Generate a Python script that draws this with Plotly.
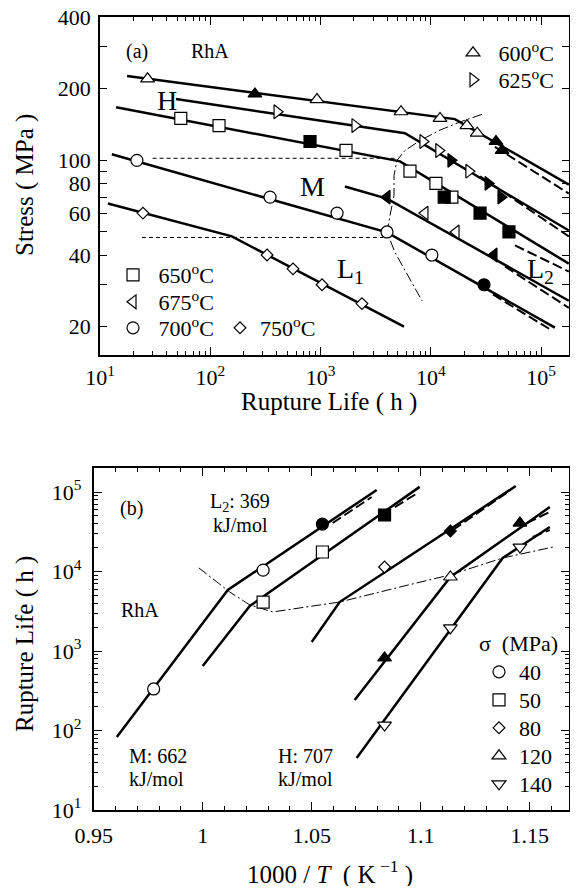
import plotly.graph_objects as go

# page is 578x894; the browser's default 8px body margin offsets the figure
PAGE_W, PAGE_H = 578, 894
OFF = 8
W, H = PAGE_W - OFF, PAGE_H - 2 * OFF
FONT = "Liberation Serif, Times New Roman, serif"
SP = "\u00a0"

# ---------------- Panel (a): rupture life (h) vs stress (MPa) ----------------
t600_open = [27, 927, 5360, 12100, 21200, 26300]
s600_open = [220, 180, 160, 150, 140, 130]
t600_fill = [254, 38900, 44200]
s600_fill = [190, 120, 110]

t625_open = [403, 2050, 8470, 11800, 22100]
s625_open = [160, 140, 120, 110, 90]
t625_fill = [15200, 33000, 43200]
s625_fill = [100, 80, 70]

t650_open = [54, 120, 1700, 6460, 11100, 15500]
s650_open = [150, 140, 110, 90, 80, 70]
t650_fill = [802, 13200, 27900, 51000]
s650_fill = [120, 70, 60, 50]

t675_open = [8830, 16900]
s675_open = [60, 50]
t675_fill = [4000, 37300]
s675_fill = [70, 40]

t700_open = [21.6, 348, 1410, 4000, 10200]
s700_open = [100, 70, 60, 50, 40]
t700_fill = [30300]
s700_fill = [30]

t750_open = [24.5, 327, 562, 1030, 2370]
s750_open = [60, 40, 35, 30, 25]

# fitted lines (vertices, data units)
fit600_t = [17.6, 16500, 178000];  fit600_s = [226, 149, 79]
dsh600_t = [38000, 178000];        dsh600_s = [114, 72.5]
fit625_t = [48.9, 5820, 178000];   fit625_s = [181, 130, 50.7]
dsh625_t = [27900, 178000];        dsh625_s = [85.7, 47.9]
fit650_t = [14, 5250, 178000];     fit650_s = [167, 99, 36.8]
dsh650_t = [57800, 178000];        dsh650_s = [43.9, 34.1]
fit675_t = [1660, 4000, 178000];   fit675_s = [77.6, 69, 25.7]
dsh675_t = [47000, 178000];        dsh675_s = [35.8, 24.0]
fit700_t = [12.8, 4000, 133000];   fit700_s = [106, 49.8, 19.8]
dsh700_t = [36500, 118000];        dsh700_s = [27.3, 19.6]
fit750_t = [11.8, 157, 5700];      fit750_s = [65.9, 47.9, 20.0]

hm_t = [30, 4720];   hm_s = [102, 102]       # H / M boundary
ml_t = [24, 3680];   ml_s = [47.4, 47.4]     # M / L1 boundary

bnd_a_t = [29000, 18400, 12100, 7960, 5820, 4930, 4630, 4630, 4260, 4000, 4730, 6190, 8300]
bnd_a_s = [156, 145, 134, 121, 110, 100, 86.5, 71.2, 58.6, 49.8, 41.0, 32.8, 25.7]

# ---------------- Panel (b): 1000/T vs rupture life ----------------
x40_open = [0.9775, 1.0277];  y40_open = [333, 10400]
x40_fill = [1.0549];          y40_fill = [39500]
x50_open = [1.0277, 1.0549];  y50_open = [4130, 17600]
x50_fill = [1.0834];          y50_fill = [51400]
x80_open = [1.0834];          y80_open = [11400]
x80_fill = [1.1136];          y80_fill = [32300]
x120_open = [1.1136];         y120_open = [8530]
x120_fill = [1.0834, 1.1455]; y120_fill = [817, 40700]
x140_open = [1.0834, 1.1136, 1.1455]; y140_open = [117, 1950, 20300]

fb40_x = [0.9606, 1.0115, 1.0798];  fb40_y = [83, 5850, 106000]
db40_x = [1.0596, 1.0775];          db40_y = [40700, 86500]
fb50_x = [1.0, 1.0216, 1.0995];     fb50_y = [647, 3680, 116000]
db50_x = [1.0881, 1.0986];          db50_y = [64700, 97100]
fb80_x = [1.05, 1.0628, 1.1436];    fb80_y = [1300, 4130, 119000]
db80_x = [1.1147, 1.1394];          db80_y = [33300, 97100]
fb120_x = [1.0697, 1.1136, 1.1592]; fb120_y = [242, 8530, 64700]
db120_x = [1.1486, 1.1592];         db120_y = [40700, 56000]
fb140_x = [1.0706, 1.1376, 1.1592]; fb140_y = [45, 14800, 36300]
db140_x = [1.1514, 1.1592];         db140_y = [27200, 33300]

bnd_b_x = [0.9982, 1.0124, 1.0216, 1.0321, 1.0445, 1.055, 1.0628, 1.0904, 1.1133, 1.1376, 1.1606]
bnd_b_y = [11100, 5520, 3800, 3100, 3480, 3800, 4130, 6380, 9040, 14800, 20300]

# tick labels
a_x_ticks = [10, 100, 1000, 10000, 100000]
a_x_text = ["10<sup>1</sup>", "10<sup>2</sup>", "10<sup>3</sup>", "10<sup>4</sup>", "10<sup>5</sup>"]
a_y_ticks = [20, 30, 40, 50, 60, 70, 80, 90, 100, 200, 300, 400]
a_y_text = ["20", "", "40", "", "60", "", "80", "", "100", "200", "", "400"]
b_x_ticks = [0.95, 1.0, 1.05, 1.1, 1.15]
b_x_text = ["0.95", "1", "1.05", "1.1", "1.15"]
b_y_ticks = [10, 100, 1000, 10000, 100000]
b_y_text = ["10<sup>1</sup>", "10<sup>2</sup>", "10<sup>3</sup>", "10<sup>4</sup>", "10<sup>5</sup>"]


def px(x):
    return (x - OFF) / W


def py(y):
    return 1 - (y - OFF) / H


fig = go.Figure()


def line(x, y, ax, dash="solid", width=2.5):
    fig.add_trace(go.Scatter(x=x, y=y, mode="lines", xaxis=ax[0], yaxis=ax[1],
                             line=dict(color="black", width=width, dash=dash),
                             showlegend=False, hoverinfo="skip"))


def marks(x, y, ax, symbol, size, filled, name=None, legend=None):
    fig.add_trace(go.Scatter(
        x=x, y=y, mode="markers", xaxis=ax[0], yaxis=ax[1],
        marker=dict(symbol=symbol, size=size, color="black" if filled else "white",
                    line=dict(color="black", width=1.2)),
        name=name if name else "", showlegend=legend is not None,
        legend=legend if legend else "legend"))


A = ("x", "y")
B = ("x2", "y2")
LDASH = "10px,4px"
THIN = "4px,3px"
DDOT = "10px,3px,2px,3px"

# panel (a) lines
for ft, fs, dt, ds in [(fit600_t, fit600_s, dsh600_t, dsh600_s),
                       (fit625_t, fit625_s, dsh625_t, dsh625_s),
                       (fit650_t, fit650_s, dsh650_t, dsh650_s),
                       (fit675_t, fit675_s, dsh675_t, dsh675_s),
                       (fit700_t, fit700_s, dsh700_t, dsh700_s)]:
    line(ft, fs, A)
    line(dt, ds, A, dash=LDASH, width=2)
line(fit750_t, fit750_s, A)
line(hm_t, hm_s, A, dash=THIN, width=1)
line(ml_t, ml_s, A, dash=THIN, width=1)
line(bnd_a_t, bnd_a_s, A, dash=DDOT, width=1)

# panel (a) markers
marks(t600_open, s600_open, A, "triangle-up", 12, False, SP + "600<sup>o</sup>C", "legend")
marks(t600_fill, s600_fill, A, "triangle-up", 12, True)
marks(t625_open, s625_open, A, "triangle-right", 12, False, SP + "625<sup>o</sup>C", "legend2")
marks(t625_fill, s625_fill, A, "triangle-right", 12, True)
marks(t650_open, s650_open, A, "square", 12, False, SP + "650<sup>o</sup>C", "legend3")
marks(t650_fill, s650_fill, A, "square", 12, True)
marks(t675_open, s675_open, A, "triangle-left", 12, False, SP + "675<sup>o</sup>C", "legend4")
marks(t675_fill, s675_fill, A, "triangle-left", 12, True)
marks(t700_open, s700_open, A, "circle", 12, False, SP + "700<sup>o</sup>C", "legend5")
marks(t700_fill, s700_fill, A, "circle", 12, True)
marks(t750_open, s750_open, A, "diamond", 9, False, "750<sup>o</sup>C", "legend6")

# panel (b) lines
for fx, fy, dx, dy in [(fb40_x, fb40_y, db40_x, db40_y), (fb50_x, fb50_y, db50_x, db50_y),
                       (fb80_x, fb80_y, db80_x, db80_y), (fb120_x, fb120_y, db120_x, db120_y),
                       (fb140_x, fb140_y, db140_x, db140_y)]:
    line(fx, fy, B)
    line(dx, dy, B, dash=LDASH, width=2)
line(bnd_b_x, bnd_b_y, B, dash=DDOT, width=1)

# panel (b) markers
marks(x40_open, y40_open, B, "circle", 12, False, "40", "legend7")
marks(x40_fill, y40_fill, B, "circle", 12, True)
marks(x50_open, y50_open, B, "square", 12, False, "50", "legend8")
marks(x50_fill, y50_fill, B, "square", 12, True)
marks(x80_open, y80_open, B, "diamond", 9, False, "80", "legend9")
marks(x80_fill, y80_fill, B, "diamond", 9, True)
marks(x120_open, y120_open, B, "triangle-up", 12, False, "120", "legend10")
marks(x120_fill, y120_fill, B, "triangle-up", 12, True)
marks(x140_open, y140_open, B, "triangle-down", 12, False, "140", "legend11")

tickfont = dict(family=FONT, size=22, color="black")
axis_common = dict(showline=True, linecolor="black", linewidth=1.8, mirror="allticks",
                   ticks="inside", ticklen=8, tickwidth=1.4, tickcolor="black",
                   showgrid=False, zeroline=False, tickfont=tickfont, tickmode="array",
                   automargin=False, ticklabeloverflow="allow")


def decade_minors(lo_exp, hi_exp, top):
    v = []
    for e in range(lo_exp, hi_exp + 1):
        for m in range(2, 10):
            val = m * 10 ** e
            if val <= top:
                v.append(val)
    return v


layout = dict(
    width=W, height=H, margin=dict(l=0, r=0, t=0, b=0, autoexpand=False),
    paper_bgcolor="white", plot_bgcolor="white",
    font=dict(family=FONT, color="black"), showlegend=True,
    xaxis=dict(axis_common, type="log", range=[1, 5.252], domain=[px(100), px(569)], anchor="y",
               tickvals=a_x_ticks, ticktext=a_x_text, ticklabelstandoff=2,
               minor=dict(ticks="inside", ticklen=4, tickwidth=1.2, tickcolor="black",
                          tickmode="array", tickvals=decade_minors(1, 5, 178000))),
    yaxis=dict(axis_common, type="log", range=[1.182, 2.6022], domain=[py(355), py(17)], anchor="x",
               tickvals=a_y_ticks, ticktext=a_y_text, ticklen=7, ticklabelstandoff=3),
    xaxis2=dict(axis_common, range=[0.95, 1.168], domain=[px(93.7), px(569)], anchor="y2",
                tickvals=b_x_ticks, ticktext=b_x_text, ticklabelstandoff=5,
                minor=dict(ticks="inside", ticklen=4, tickwidth=1.2, tickcolor="black",
                           tickmode="array",
                           tickvals=[0.96, 0.97, 0.98, 0.99, 1.01, 1.02, 1.03, 1.04, 1.06, 1.07,
                                     1.08, 1.09, 1.11, 1.12, 1.13, 1.14, 1.16])),
    yaxis2=dict(axis_common, type="log", range=[1, 5.302], domain=[py(810), py(468)], anchor="x2",
                tickvals=b_y_ticks, ticktext=b_y_text, ticklabelstandoff=6,
                minor=dict(ticks="inside", ticklen=4, tickwidth=1.2, tickcolor="black",
                           tickmode="array", tickvals=decade_minors(1, 5, 200000))),
)

# one legend per entry so that each sits exactly where the original places it
leg_pos = {
    "legend": (473, 53), "legend2": (473, 80),
    "legend3": (133, 275), "legend4": (133, 302), "legend5": (133, 328),
    "legend6": (240, 328),
    "legend7": (499, 672), "legend8": (499, 700), "legend9": (499, 728),
    "legend10": (499, 756), "legend11": (499, 784),
}
for k, (sx, sy) in leg_pos.items():
    layout[k] = dict(x=px(sx - 20), y=py(sy), xanchor="left", yanchor="middle",
                     bgcolor="rgba(0,0,0,0)", borderwidth=0,
                     font=dict(family=FONT, size=22, color="black"))

fig.update_layout(**layout)


def text(x, y, s, size=20, xanchor="center", angle=0):
    fig.add_annotation(x=px(x), y=py(y), xref="paper", yref="paper", text=s, showarrow=False,
                       font=dict(family=FONT, size=size, color="black"),
                       xanchor=xanchor, yanchor="middle", textangle=angle)


# panel (a) texts
text(137, 51, "(a)", 20)
text(210, 51, "RhA", 20)
text(167, 100, "H", 28)
text(312, 187, "M", 28)
text(350, 270, "L<sub>1</sub>", 28)
text(540, 270, "L<sub>2</sub>", 28)
text(329, 402, "Rupture Life ( h )", 25)
text(25, 185, "Stress ( MPa )", 25, angle=-90)

# panel (b) texts
text(131, 508, "(b)", 20)
text(240, 502, "L<sub>2</sub>: 369", 20)
text(240, 525, "kJ/mol", 20)
text(140, 610, "RhA", 20)
text(127, 756, "M: 662", 20, xanchor="left")
text(127, 779, "kJ/mol", 20, xanchor="left")
text(276, 756, "H: 707", 20, xanchor="left")
text(276, 779, "kJ/mol", 20, xanchor="left")
text(477, 643, "σ  (MPa)", 22, xanchor="left")
text(330, 872, "1000 / <i>T</i>  ( K<sup> −1</sup> )", 25)
text(25, 644, "Rupture Life ( h )", 25, angle=-90)

fig.write_html("out.html")
